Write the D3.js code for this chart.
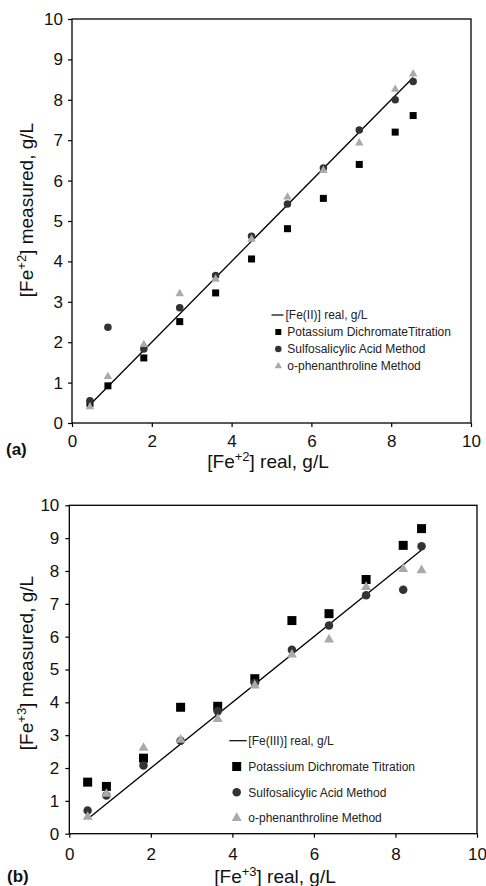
<!DOCTYPE html>
<html>
<head>
<meta charset="utf-8">
<script src="https://cdn.jsdelivr.net/npm/d3@7"></script>
<style>
  html, body { margin: 0; padding: 0; background: #fff; }
  svg { display: block; font-family: "Liberation Sans", Arial, Helvetica, sans-serif; }
</style>
</head>
<body>
<svg id="chart" width="486" height="886"></svg>
<script>
// ---------- data ----------
const xTicks = [0, 2, 4, 6, 8, 10];
const yTicks = [0, 1, 2, 3, 4, 5, 6, 7, 8, 9, 10];

// (a) Fe(II)
const realA   = [0.45, 0.9, 1.8, 2.7, 3.6, 4.5, 5.4, 6.3, 7.2, 8.1, 8.55];
const dichA   = [0.48, 0.92, 1.61, 2.51, 3.22, 4.06, 4.81, 5.56, 6.40, 7.20, 7.61];
const sulfoA  = [0.55, 2.37, 1.83, 2.85, 3.65, 4.62, 5.42, 6.31, 7.25, 8.00, 8.45];
const phenA   = [0.40, 1.15, 1.94, 3.20, 3.56, 4.55, 5.59, 6.25, 6.93, 8.26, 8.64];

// (b) Fe(III)
const realB   = [0.45, 0.91, 1.82, 2.73, 3.64, 4.55, 5.46, 6.37, 7.28, 8.19, 8.64];
const dichB   = [1.57, 1.44, 2.30, 3.85, 3.88, 4.72, 6.49, 6.70, 7.74, 8.78, 9.29];
const sulfoB  = [0.71, 1.16, 2.08, 2.83, 3.73, 4.59, 5.60, 6.34, 7.26, 7.43, 8.75];
const phenB   = [0.51, 1.21, 2.61, 2.86, 3.49, 4.51, 5.45, 5.91, 7.51, 8.06, 8.02];

const legendA = ["[Fe(II)] real, g/L", "Potassium DichromateTitration", "Sulfosalicylic Acid Method", "o-phenanthroline Method"];
const legendB = ["[Fe(III)] real, g/L", "Potassium Dichromate Titration", "Sulfosalicylic Acid Method", "o-phenanthroline  Method"];

const colSquare = "#000000", colCircle = "#333333", colTri = "#aaaaaa";

const svg = d3.select("#chart");

function panel(cfg) {
  const x = d3.scaleLinear().domain([0, 10]).range([cfg.left, cfg.right]);
  const y = d3.scaleLinear().domain([0, 10]).range([cfg.bottom, cfg.top]);
  const g = svg.append("g");

  // axes
  const ax = g.append("g").attr("transform", `translate(0,${cfg.bottom})`)
    .call(d3.axisBottom(x).tickValues(xTicks).tickSize(4).tickPadding(cfg.xPad));
  const ay = g.append("g").attr("transform", `translate(${cfg.left},0)`)
    .call(d3.axisLeft(y).tickValues(yTicks).tickSize(4).tickPadding(cfg.yPad));
  [ax, ay].forEach(a => {
    a.select(".domain").remove();
    a.selectAll("line").attr("stroke", "#000").attr("stroke-width", 1.2);
    a.selectAll("text").attr("font-size", 17).attr("fill", "#111")
      .attr("font-family", "'Liberation Sans', Arial, sans-serif");
  });

  // frame
  g.append("rect")
    .attr("x", cfg.left).attr("y", cfg.top)
    .attr("width", cfg.right - cfg.left).attr("height", cfg.bottom - cfg.top)
    .attr("fill", "none").attr("stroke", "#000").attr("stroke-width", 1.3);

  // reference line
  const pts = cfg.real.map(v => [v, v]);
  g.append("path")
    .attr("d", d3.line().x(d => x(d[0])).y(d => y(d[1]))([pts[0], pts[pts.length - 1]]))
    .attr("stroke", "#000").attr("stroke-width", 1.3).attr("fill", "none");

  const sq = d3.symbol().type(d3.symbolSquare).size(cfg.sq * cfg.sq);
  const ci = d3.symbol().type(d3.symbolCircle).size(Math.PI * cfg.ci * cfg.ci / 4);
  const tr = d3.symbol().type(d3.symbolTriangle).size(Math.sqrt(3) / 4 * cfg.tr * cfg.tr);

  const series = [
    { vals: cfg.dich, sym: sq, col: colSquare },
    { vals: cfg.sulfo, sym: ci, col: colCircle },
    { vals: cfg.phen, sym: tr, col: colTri }
  ];
  series.forEach(s => {
    g.append("g").selectAll("path").data(s.vals).join("path")
      .attr("d", s.sym)
      .attr("transform", (d, i) => `translate(${x(cfg.real[i])},${y(d)})`)
      .attr("fill", s.col);
  });

  // legend
  const L = cfg.legend;
  const lg = g.append("g");
  lg.append("line").attr("x1", L.lineX1).attr("x2", L.lineX2)
    .attr("y1", L.y0).attr("y2", L.y0).attr("stroke", "#000").attr("stroke-width", 1.2);
  lg.append("text").attr("x", L.textX0).attr("y", L.y0).attr("dy", "0.35em")
    .attr("font-size", 12).attr("fill", "#222").text(cfg.labels[0]);
  const lsq = d3.symbol().type(d3.symbolSquare).size(L.sq * L.sq);
  const lci = d3.symbol().type(d3.symbolCircle).size(Math.PI * L.ci * L.ci / 4);
  const ltr = d3.symbol().type(d3.symbolTriangle).size(Math.sqrt(3) / 4 * L.tr * L.tr);
  [[lsq, colSquare], [lci, colCircle], [ltr, colTri]].forEach((m, i) => {
    const yy = L.y0 + (i + 1) * L.step;
    lg.append("path").attr("d", m[0]).attr("fill", m[1])
      .attr("transform", `translate(${L.markX},${yy})`);
    lg.append("text").attr("x", L.textX).attr("y", yy).attr("dy", "0.35em")
      .attr("font-size", 12).attr("fill", "#222").text(cfg.labels[i + 1]);
  });

  // axis titles
  const xt = g.append("text").attr("x", cfg.xTitleX).attr("y", cfg.xTitleY)
    .attr("text-anchor", "middle").attr("font-size", 19).attr("fill", "#111");
  xt.append("tspan").text("[Fe");
  xt.append("tspan").attr("dy", -7).attr("font-size", 13).text(cfg.sup);
  xt.append("tspan").attr("dy", 7).text("] real, g/L");

  const yt = g.append("text")
    .attr("transform", `translate(${cfg.yTitleX},${cfg.yTitleY}) rotate(-90)`)
    .attr("text-anchor", "middle").attr("font-size", 19).attr("fill", "#111");
  yt.append("tspan").text("[Fe");
  yt.append("tspan").attr("dy", -7).attr("font-size", 13).text(cfg.sup);
  yt.append("tspan").attr("dy", 7).text("] measured, g/L");

  g.append("text").attr("x", cfg.tagX).attr("y", cfg.tagY)
    .attr("font-size", 17).attr("font-weight", "bold").attr("fill", "#111").text(cfg.tag);
}

panel({
  left: 72, right: 471, top: 19, bottom: 423,
  xPad: 8, yPad: 5,
  real: realA, dich: dichA, sulfo: sulfoA, phen: phenA,
  sq: 7, ci: 7.5, tr: 8.5,
  labels: legendA,
  legend: { lineX1: 271.5, lineX2: 283.5, y0: 315, textX0: 285.5, markX: 278.3, textX: 287.3, step: 17, sq: 6, ci: 6.5, tr: 7.5 },
  sup: "+2",
  xTitleX: 268, xTitleY: 468,
  yTitleX: 33, yTitleY: 210,
  tag: "(a)", tagX: 6, tagY: 455
});

panel({
  left: 69.3, right: 477, top: 505.3, bottom: 833.7,
  xPad: 10, yPad: 6,
  real: realB, dich: dichB, sulfo: sulfoB, phen: phenB,
  sq: 9, ci: 8.5, tr: 10,
  labels: legendB,
  legend: { lineX1: 229.3, lineX2: 246.7, y0: 740.7, textX0: 248.3, markX: 236.7, textX: 248.3, step: 25.8, sq: 9, ci: 8.5, tr: 10 },
  sup: "+3",
  xTitleX: 275, xTitleY: 883,
  yTitleX: 33, yTitleY: 663,
  tag: "(b)", tagX: 7, tagY: 882
});
</script>
</body>
</html>
